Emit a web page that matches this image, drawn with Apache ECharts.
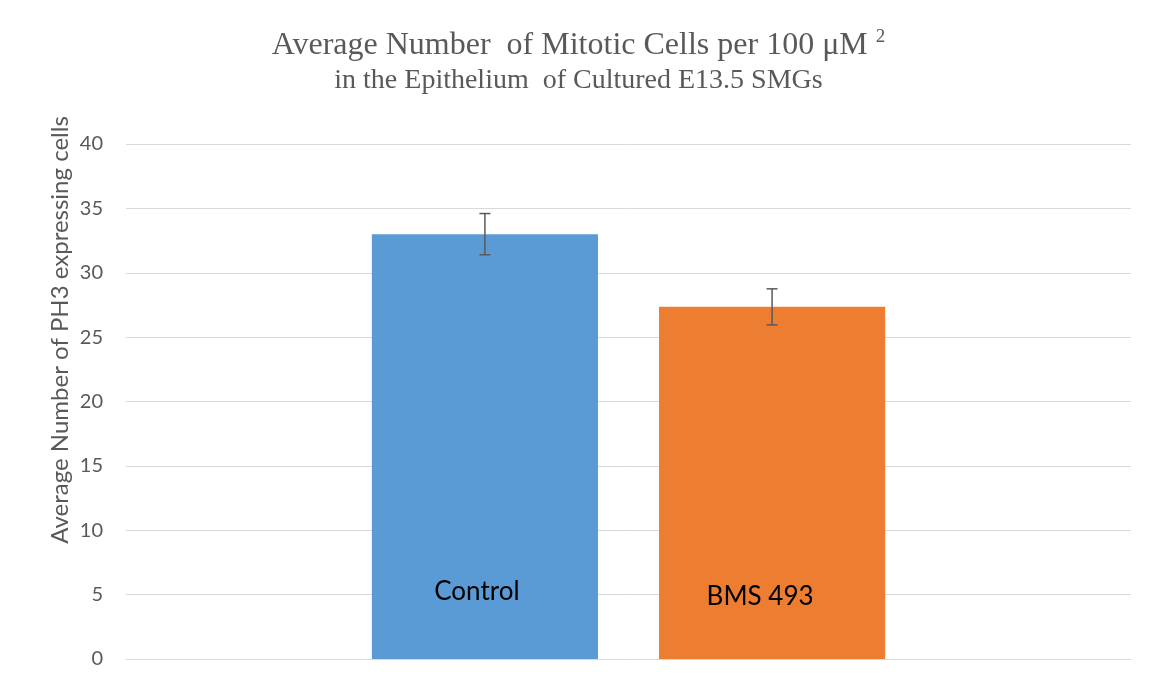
<!DOCTYPE html>
<html>
<head>
<meta charset="utf-8">
<script src="https://cdn.jsdelivr.net/npm/echarts@6/dist/echarts.min.js"></script>
<style>
html,body{margin:0;padding:0;background:#fff;}
#chart{width:1157px;height:685px;}
</style>
</head>
<body>
<div id="chart"></div>
<script>
const seriesNames = ['Control', 'BMS 493'];
const means = [33.0, 27.35];
const errors = [1.6, 1.4];
const barColors = ['#5b9bd5', '#ed7d31'];
const yTicks = [0, 5, 10, 15, 20, 25, 30, 35, 40];

const chart = echarts.init(document.getElementById('chart'));
const BAR_FRAC = 0.225;   // bar width as share of the category band
const GAP_FRAC = 0.27;    // gap between bars as share of bar width
const labelOffsets = [[-8, 0], [-12, 5]];

const barSeries = seriesNames.map((name, i) => ({
  name: name,
  type: 'bar',
  data: [means[i]],
  barWidth: (BAR_FRAC * 100) + '%',
  barGap: (GAP_FRAC * 100) + '%',
  itemStyle: { color: barColors[i] },
  label: {
    show: true,
    position: 'insideBottom',
    distance: 54,
    offset: labelOffsets[i],
    formatter: name,
    color: '#000',
    fontFamily: 'Lato',
    fontSize: 26
  },
  silent: true
}));

const errSeries = {
  type: 'custom',
  silent: true,
  z: 10,
  data: seriesNames.map((n, i) => [0, means[i], errors[i], i]),
  renderItem: function (params, api) {
    const val = api.value(1), err = api.value(2), idx = api.value(3);
    const band = api.size([1, 0])[0];
    const bw = band * BAR_FRAC;
    const step = bw * (1 + GAP_FRAC);
    const dx = (idx - (seriesNames.length - 1) / 2) * step;
    const top = api.coord([0, val + err]);
    const bot = api.coord([0, val - err]);
    const x = top[0] + dx;
    const cap = 5.5;
    const st = { stroke: '#595959', lineWidth: 1.5 };
    return {
      type: 'group',
      children: [
        { type: 'line', shape: { x1: x, y1: top[1], x2: x, y2: bot[1] }, style: st },
        { type: 'line', shape: { x1: x - cap, y1: top[1], x2: x + cap, y2: top[1] }, style: st },
        { type: 'line', shape: { x1: x - cap, y1: bot[1], x2: x + cap, y2: bot[1] }, style: st }
      ]
    };
  }
};

chart.setOption({
  animation: false,
  backgroundColor: '#fff',
  title: {
    left: 'center',
    top: 28,
    padding: [0, 0, 0, 12],
    text: '{a|Average Number  of Mitotic Cells per 100 μM }{s|2}\n{b|in the Epithelium  of Cultured E13.5 SMGs}',
    textStyle: {
      rich: {
        a: { fontFamily: 'Liberation Serif', fontWeight: 'normal', fontSize: 32, color: '#595959', lineHeight: 36 },
        s: { fontFamily: 'Liberation Serif', fontWeight: 'normal', fontSize: 19, color: '#595959', verticalAlign: 'top', padding: [0, 0, 14, 0] },
        b: { fontFamily: 'Liberation Serif', fontWeight: 'normal', fontSize: 28, color: '#595959', lineHeight: 33 }
      }
    }
  },
  grid: { left: 126, right: 26, top: 144, bottom: 26, containLabel: false },
  xAxis: {
    type: 'category',
    data: [''],
    axisLine: { show: true, lineStyle: { color: '#d9d9d9', width: 1 } },
    axisTick: { show: false },
    axisLabel: { show: false }
  },
  yAxis: {
    type: 'value',
    min: yTicks[0],
    max: yTicks[yTicks.length - 1],
    interval: yTicks[1] - yTicks[0],
    axisLine: { show: false },
    axisTick: { show: false },
    axisLabel: { color: '#595959', fontFamily: 'Lato', fontSize: 20, margin: 23 },
    splitLine: { lineStyle: { color: '#d9d9d9', width: 1 } }
  },
  graphic: [{
    type: 'text',
    x: 60,
    y: 330,
    rotation: Math.PI / 2,
    style: {
      text: 'Average Number of PH3 expressing cells',
      fill: '#595959',
      fontFamily: 'Lato',
      fontSize: 24,
      align: 'center',
      verticalAlign: 'middle'
    }
  }],
  series: barSeries.concat([errSeries])
});
</script>
</body>
</html>
